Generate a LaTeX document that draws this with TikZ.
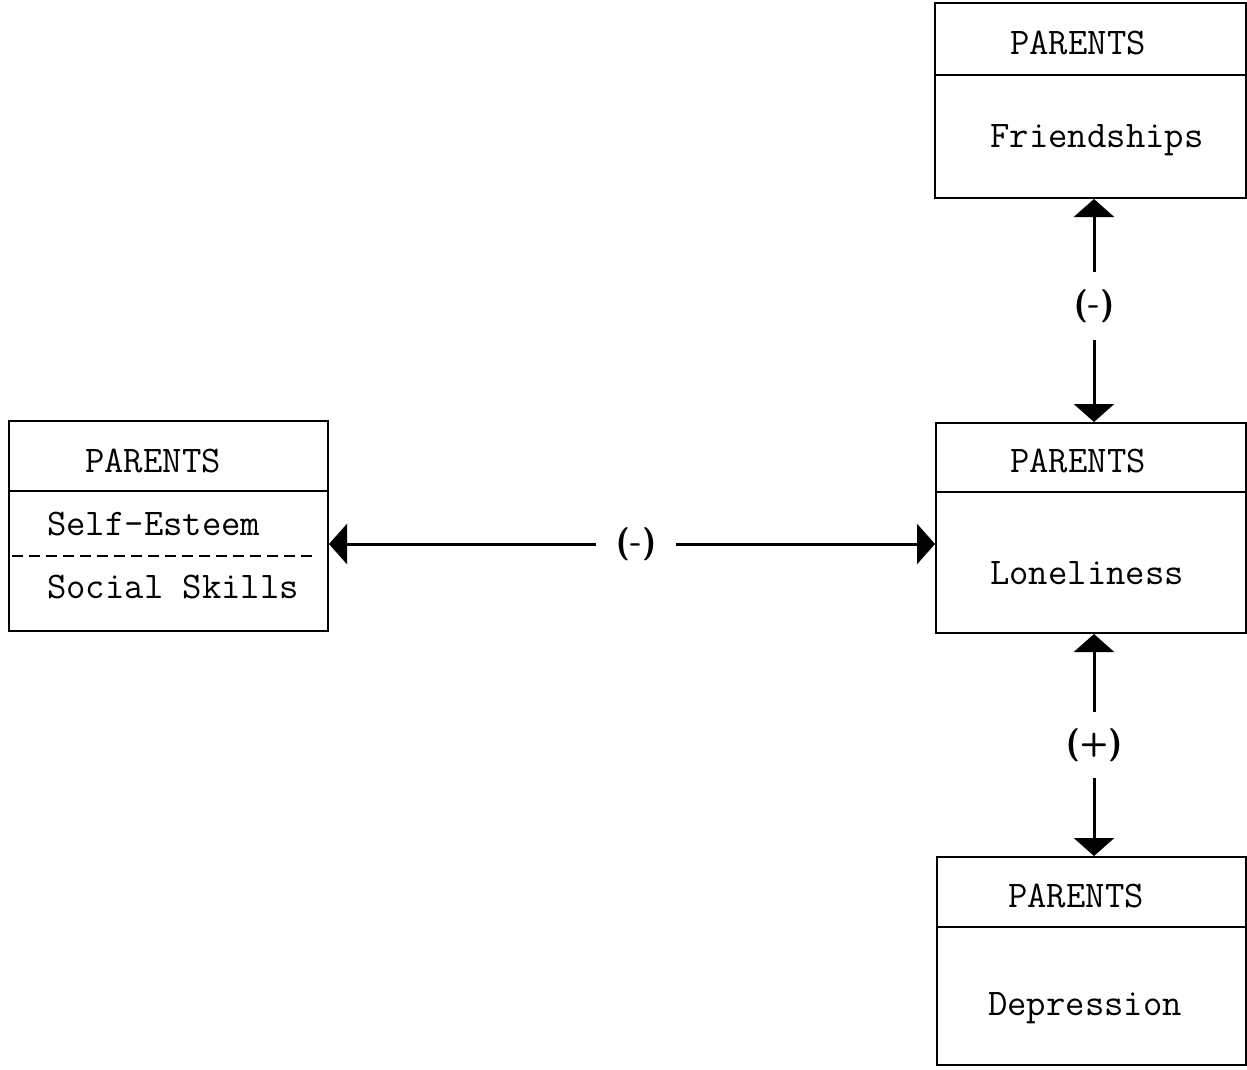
\documentclass[tikz,border=0pt]{standalone}
\usetikzlibrary{arrows.meta}
\begin{document}
\begin{tikzpicture}[x=1pt,y=-1pt,
  box/.style={draw,line width=2pt,anchor=north west,inner sep=0pt},
  txt/.style={font=\ttfamily\fontsize{37.6}{40}\selectfont,inner sep=0pt},
  sign/.style={font=\sffamily\bfseries\fontsize{33}{34}\selectfont,inner sep=4pt},
  link/.style={line width=3pt,-{Triangle[length=18pt,width=40pt]}}]
\useasboundingbox (0,0) rectangle (1247,1069);

% boxes
\node[box,minimum width=311pt,minimum height=195pt] (fr) at (934,2) {};
\node[box,minimum width=310pt,minimum height=210pt] (lo) at (935,422) {};
\node[box,minimum width=309pt,minimum height=208pt] (de) at (936,856) {};
\node[box,minimum width=319pt,minimum height=210pt] (se) at (8,420) {};

% header dividers
\draw[line width=2pt] (fr.west |- 0,75) -- (fr.east |- 0,75);
\draw[line width=2pt] (lo.west |- 0,492) -- (lo.east |- 0,492);
\draw[line width=2pt] (de.west |- 0,927) -- (de.east |- 0,927);
\draw[line width=2pt] (se.west |- 0,491) -- (se.east |- 0,491);
\draw[line width=1.6pt,dash pattern=on 11pt off 6pt] (12,556) -- (315,556);

% box texts
\node[txt] (frh) at (1078,43) {PARENTS};
\node[txt] (frt) at (1097,140) {Friendships};
\node[txt] (loh) at (1078,461) {PARENTS};
\node[txt] (lot) at (1087,573) {Loneliness};
\node[txt] (deh) at (1076,896) {PARENTS};
\node[txt] (det) at (1085,1008) {Depression};
\node[txt] (seh) at (153,461) {PARENTS};
\node[txt,anchor=west] (set) at (47,524) {Self-Esteem};
\node[txt,anchor=west] (sst) at (47,587) {Social Skills};

% relation labels
\node[sign,minimum height=68pt] (s1) at (1094,306) {(-)};
\node[sign,minimum width=79pt] (s2) at (636,544) {(-)};
\node[sign,minimum height=66pt] (s3) at (1094,745) {(+)};

% connectors
\draw[link] (s1.north) -- (s1.north |- fr.south);
\draw[link] (s1.south) -- (s1.south |- lo.north);
\draw[link] (s2.west) -- (s2.west -| se.east);
\draw[link] (s2.east) -- (s2.east -| lo.west);
\draw[link] (s3.north) -- (s3.north |- lo.south);
\draw[link] (s3.south) -- (s3.south |- de.north);
\end{tikzpicture}
\end{document}
